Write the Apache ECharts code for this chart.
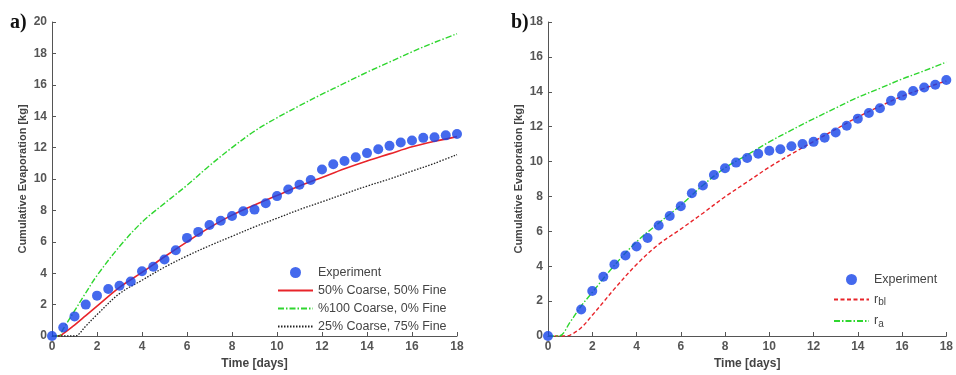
<!DOCTYPE html>
<html>
<head>
<meta charset="utf-8">
<script src="https://cdn.jsdelivr.net/npm/echarts@6/dist/echarts.min.js"></script>
<style>
  html, body { margin: 0; padding: 0; background: #fff; }
  #chart { width: 956px; height: 375px; }
</style>
</head>
<body>
<div id="chart"></div>
<script>
// panel a) measured points, every half day
var expDaysA = [0, 0.5, 1, 1.5, 2, 2.5, 3, 3.5, 4, 4.5, 5, 5.5, 6, 6.5, 7, 7.5, 8, 8.5, 9,
    9.5, 10, 10.5, 11, 11.5, 12, 12.5, 13, 13.5, 14, 14.5, 15, 15.5, 16, 16.5, 17, 17.5, 18];
var expA = [0, 0.54, 1.25, 2.0, 2.57, 2.99, 3.2, 3.47, 4.12, 4.41, 4.87, 5.46, 6.25, 6.63, 7.07,
    7.34, 7.64, 7.95, 8.05, 8.45, 8.91, 9.33, 9.64, 9.94, 10.61, 10.94, 11.15, 11.38, 11.65,
    11.9, 12.11, 12.32, 12.45, 12.62, 12.66, 12.78, 12.87];

// panel a) model curves
var modelDaysA = [0, 0.3, 0.5, 1, 1.5, 2, 3, 4, 5, 6, 7, 8, 9, 10, 11, 12, 13, 14, 15, 16, 17, 18];
var coarse50 = [0, 0, 0.15, 0.7, 1.3, 1.9, 3.1, 4.05, 5.05, 6.0, 6.9, 7.7, 8.35, 8.95, 9.55,
    10.1, 10.65, 11.15, 11.6, 12.05, 12.4, 12.7];
var coarse100 = [0, 0, 0.45, 1.6, 2.75, 3.85, 5.7, 7.25, 8.45, 9.6, 10.85, 12.0, 13.05, 13.9,
    14.67, 15.4, 16.1, 16.8, 17.45, 18.1, 18.7, 19.25];
var coarse25Days = [0, 0.5, 1, 1.1, 1.5, 2, 3, 4, 5, 6, 7, 8, 9, 10, 11, 12, 13, 14, 15, 16, 17, 18];
var coarse25 = [0, 0, 0, 0.02, 0.63, 1.36, 2.7, 3.55, 4.38, 5.1, 5.75, 6.35, 6.95, 7.5, 8.05,
    8.55, 9.05, 9.55, 10.0, 10.5, 11.0, 11.55];

// panel b) measured points
var expDaysB = [0, 1.5, 2, 2.5, 3, 3.5, 4, 4.5, 5, 5.5, 6, 6.5, 7, 7.5, 8, 8.5, 9, 9.5, 10,
    10.5, 11, 11.5, 12, 12.5, 13, 13.5, 14, 14.5, 15, 15.5, 16, 16.5, 17, 17.5, 18];
var expB = [0, 1.52, 2.58, 3.4, 4.1, 4.62, 5.13, 5.62, 6.33, 6.88, 7.44, 8.18, 8.63, 9.23,
    9.62, 9.94, 10.2, 10.45, 10.62, 10.71, 10.88, 11.0, 11.13, 11.37, 11.67, 12.05, 12.46,
    12.78, 13.06, 13.48, 13.78, 14.04, 14.25, 14.4, 14.68];

// panel b) model curves
var rblDays = [0, 0.8, 1, 1.5, 2, 2.5, 3, 4, 5, 6, 7, 8, 9, 10, 11, 12, 13, 14, 15, 16, 17, 18];
var rbl = [0, 0, 0.05, 0.47, 1.19, 1.94, 2.7, 4.1, 5.25, 6.13, 7.04, 7.98, 8.83, 9.68, 10.43,
    11.15, 11.85, 12.55, 13.17, 13.74, 14.2, 14.62];
var raDays = [0, 0.5, 1, 1.5, 2, 3, 4, 5, 6, 7, 8, 9, 10, 11, 12, 13, 14, 15, 16, 17, 18];
var ra = [0, 0, 0.8, 1.72, 2.5, 4.05, 5.4, 6.47, 7.5, 8.64, 9.64, 10.38, 11.13, 11.8, 12.45,
    13.07, 13.68, 14.2, 14.73, 15.2, 15.7];

function pairs(xs, ys) {
    return xs.map(function (x, i) { return [x, ys[i]]; });
}

var blue = '#1544e8', red = '#e8242a', green = '#2fd62f', black = '#222';
var axisColor = '#555';
var labelFont = 'Liberation Sans, Arial, sans-serif';

function xAxisFor(idx) {
    return {
        type: 'value', gridIndex: idx, min: 0, max: 18, interval: 2,
        name: 'Time [days]', nameLocation: 'middle', nameGap: 22,
        nameTextStyle: { fontFamily: labelFont, fontSize: 12, fontWeight: 'bold', color: '#444' },
        axisLine: { lineStyle: { color: axisColor, width: 1 } },
        axisTick: { inside: true, length: 4, lineStyle: { color: axisColor } },
        axisLabel: { margin: 5, fontFamily: labelFont, fontSize: 12, fontWeight: 'bold', color: '#555' },
        splitLine: { show: false }
    };
}

function yAxisFor(idx, max) {
    return {
        type: 'value', gridIndex: idx, min: 0, max: max, interval: 2,
        name: 'Cumulative Evaporation [kg]', nameLocation: 'middle', nameGap: 24,
        nameTextStyle: { fontFamily: labelFont, fontSize: 11, fontWeight: 'bold', color: '#444' },
        axisLine: { show: true, lineStyle: { color: axisColor, width: 1 } },
        axisTick: { show: true, inside: true, length: 4, lineStyle: { color: axisColor } },
        axisLabel: { margin: 5, fontFamily: labelFont, fontSize: 12, fontWeight: 'bold', color: '#555' },
        splitLine: { show: false }
    };
}

function lineSeries(name, idx, data, color, dash, width) {
    return {
        type: 'line', name: name, xAxisIndex: idx, yAxisIndex: idx,
        data: data, showSymbol: false, symbol: 'none',
        smooth: 0.35,
        lineStyle: { color: color, width: width, type: dash },
        itemStyle: { color: color },
        z: 2
    };
}

// legend entry for a curve: hide the marker, keep the dashed line
function lineEntry(name) {
    return { name: name, itemStyle: { opacity: 0 } };
}

var legendText = { fontFamily: labelFont, fontSize: 12.5, color: '#444',
    rich: {
        r: { fontFamily: labelFont, fontSize: 12.5, color: '#444' },
        s: { fontFamily: labelFont, fontSize: 10, color: '#444', verticalAlign: 'bottom', padding: [6, 0, 0, 0] }
    }
};

var chart = echarts.init(document.getElementById('chart'), null, { renderer: 'canvas' });
chart.setOption({
    animation: false,
    backgroundColor: '#fff',
    title: [
        { text: 'a)', left: 5, top: 8, textStyle: { fontFamily: 'Liberation Serif, serif', fontSize: 20, fontWeight: 'bold', color: '#111' } },
        { text: 'b)', left: 506, top: 8, textStyle: { fontFamily: 'Liberation Serif, serif', fontSize: 20, fontWeight: 'bold', color: '#111' } }
    ],
    grid: [
        { left: 52, right: 499, top: 22, bottom: 34 },
        { left: 548, right: 4, top: 22, bottom: 34 }
    ],
    xAxis: [xAxisFor(0), xAxisFor(1)],
    yAxis: [yAxisFor(0, 20), yAxisFor(1, 18)],
    legend: [
        {
            orient: 'vertical', left: 272, top: 261, itemWidth: 35, itemHeight: 11, itemGap: 5,
            textStyle: legendText,
            data: [
                { name: 'Experiment', icon: 'circle' },
                lineEntry('50% Coarse, 50% Fine'), lineEntry('%100 Coarse, 0% Fine'),
                lineEntry('25% Coarse, 75% Fine')
            ]
        },
        {
            orient: 'vertical', left: 828, top: 268, itemWidth: 35, itemHeight: 11, itemGap: 7,
            textStyle: legendText,
            formatter: function (n) {
                if (n === 'rbl') return '{r|r}{s|bl}';
                if (n === 'ra') return '{r|r}{s|a}';
                return n;
            },
            data: [{ name: 'Experiment', icon: 'circle' }, lineEntry('rbl'), lineEntry('ra')]
        }
    ],
    series: [
        lineSeries('50% Coarse, 50% Fine', 0, pairs(modelDaysA, coarse50), red, 'solid', 1.6),
        lineSeries('%100 Coarse, 0% Fine', 0, pairs(modelDaysA, coarse100), green, [6, 2, 1.5, 2], 1.4),
        lineSeries('25% Coarse, 75% Fine', 0, pairs(coarse25Days, coarse25), black, [1.5, 1.5], 1.3),
        {
            type: 'scatter', name: 'Experiment', xAxisIndex: 0, yAxisIndex: 0,
            data: pairs(expDaysA, expA), symbol: 'circle', symbolSize: 10,
            itemStyle: { color: blue }, z: 3
        },
        lineSeries('rbl', 1, pairs(rblDays, rbl), red, [4, 2.5], 1.4),
        lineSeries('ra', 1, pairs(raDays, ra), green, [6, 2, 1.5, 2], 1.4),
        {
            type: 'scatter', name: 'Experiment', xAxisIndex: 1, yAxisIndex: 1,
            data: pairs(expDaysB, expB), symbol: 'circle', symbolSize: 10,
            itemStyle: { color: blue }, z: 3
        }
    ]
});
</script>
</body>
</html>
